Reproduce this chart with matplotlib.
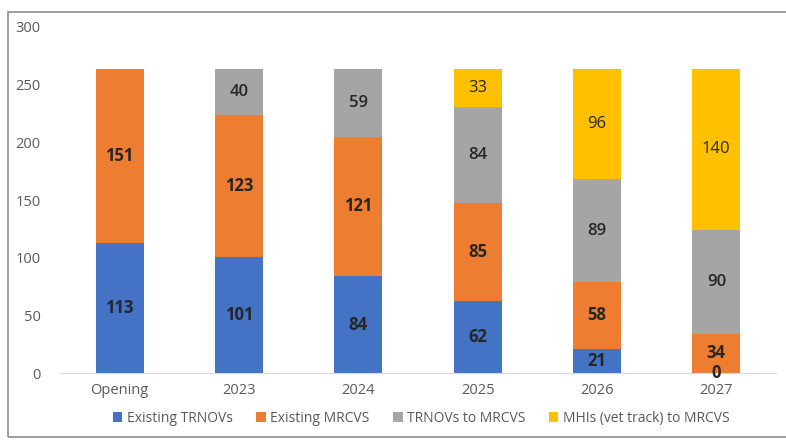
import matplotlib
matplotlib.use("Agg")
import matplotlib.pyplot as plt
from matplotlib.patches import Rectangle

categories = ["Opening", "2023", "2024", "2025", "2026", "2027"]
series_names = ["Existing TRNOVs", "Existing MRCVS", "TRNOVs to MRCVS", "MHIs (vet track) to MRCVS"]
existing_trnovs = [113, 101, 84, 62, 21, 0]
existing_mrcvs = [151, 123, 121, 85, 58, 34]
trnovs_to_mrcvs = [0, 40, 59, 84, 89, 90]
mhis_to_mrcvs = [0, 0, 0, 33, 96, 140]
y_ticks = [0, 50, 100, 150, 200, 250, 300]

colors = ["#4472C4", "#ED7D31", "#A5A5A5", "#FFC000"]
label_weights = ["bold", "bold", "semibold", "normal"]

plt.rcParams['font.family'] = ['Open Sans', 'DejaVu Sans']

fig = plt.figure(figsize=(7.86, 4.40), dpi=100)
ax = fig.add_axes([60/786, 1-373/440, 716/786, 346/440])

data = [existing_trnovs, existing_mrcvs, trnovs_to_mrcvs, mhis_to_mrcvs]
x = list(range(len(categories)))
bottom = [0]*len(categories)
for i, (vals, name) in enumerate(zip(data, series_names)):
    ax.bar(x, vals, width=0.40, bottom=bottom, color=colors[i], label=name)
    for j, v in enumerate(vals):
        if v > 0 or i == 0:
            ax.text(x[j], bottom[j] + v/2, str(v), ha="center", va="center",
                    fontsize=12, fontweight=label_weights[i], color="#262626")
    bottom = [b + v for b, v in zip(bottom, vals)]

ax.set_xlim(-0.5, len(categories)-0.5)
ax.set_ylim(0, 300)
ax.set_yticks(y_ticks)
ax.set_xticks(x)
ax.set_xticklabels(categories)
ax.tick_params(axis="both", length=0, labelsize=10.5, colors="#595959")
ax.tick_params(axis="y", pad=14)
ax.tick_params(axis="x", pad=7)
for s in ["top", "right", "left"]:
    ax.spines[s].set_visible(False)
ax.spines["bottom"].set_color("#D9D9D9")

fig.legend(loc="center", bbox_to_anchor=(421/786, 1-418/440), ncol=4, frameon=False,
           fontsize=10, handlelength=0.7, handleheight=0.7, handletextpad=0.3,
           columnspacing=1.7, labelcolor="#595959")

fig.patches.append(Rectangle((8/786, 1-437/440), 790/786, 425/440, transform=fig.transFigure,
                             fill=False, edgecolor="#8C8C8C", linewidth=1.2))

fig.savefig("out.png", dpi=100)
